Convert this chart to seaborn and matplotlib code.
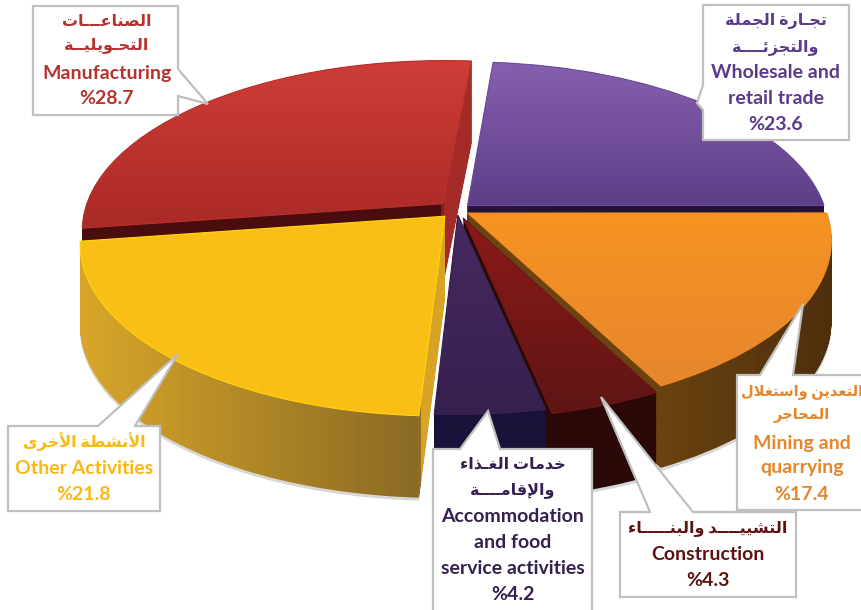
import numpy as np
import matplotlib
matplotlib.use('Agg')
import matplotlib.pyplot as plt
from matplotlib.colors import LinearSegmentedColormap
from matplotlib.patches import PathPatch, Polygon
from matplotlib.path import Path
import seaborn as sns

# slices, clockwise from the top
sectors = ['Wholesale and retail trade', 'Mining and quarrying', 'Construction',
           'Accommodation and food service activities', 'Other Activities', 'Manufacturing']
shares = [23.6, 17.4, 4.3, 4.2, 21.8, 28.7]
explode = [0.04, 0.035, 0.05, 0.03, 0.05, 0.055]

top_colors = ['#6f4d9c', '#f18c26', '#6c1716', '#38224f', '#fabf16', '#b9312d']

label_lines = [
    ['تجـارة الجملة', 'والتجزئــــة', 'Wholesale and', 'retail trade', '%23.6'],
    ['التعدين واستغلال', 'المحاجر', 'Mining and', 'quarrying', '%17.4'],
    ['التشييــــد والبنـــــاء', 'Construction', '%4.3'],
    ['خدمات الغـذاء', 'والإقامــــة', 'Accommodation', 'and food', 'service activities', '%4.2'],
    ['الأنشطة الأخرى', 'Other Activities', '%21.8'],
    ['الصناعـــات', 'التحـويليــة', 'Manufacturing', '%28.7'],
]
label_colors = ['#5b3a8a', '#e5862a', '#5c1312', '#35204f', '#fbb813', '#b5332e']

# Arabic presentation forms: isolated, final, initial, medial
FORMS = {
    'ء': (0xFE80,), 'آ': (0xFE81, 0xFE82), 'أ': (0xFE83, 0xFE84), 'إ': (0xFE87, 0xFE88),
    'ئ': (0xFE89, 0xFE8A, 0xFE8B, 0xFE8C), 'ا': (0xFE8D, 0xFE8E), 'ب': (0xFE8F, 0xFE90, 0xFE91, 0xFE92),
    'ة': (0xFE93, 0xFE94), 'ت': (0xFE95, 0xFE96, 0xFE97, 0xFE98), 'ج': (0xFE9D, 0xFE9E, 0xFE9F, 0xFEA0),
    'ح': (0xFEA1, 0xFEA2, 0xFEA3, 0xFEA4), 'خ': (0xFEA5, 0xFEA6, 0xFEA7, 0xFEA8), 'د': (0xFEA9, 0xFEAA),
    'ذ': (0xFEAB, 0xFEAC), 'ر': (0xFEAD, 0xFEAE), 'ز': (0xFEAF, 0xFEB0),
    'س': (0xFEB1, 0xFEB2, 0xFEB3, 0xFEB4), 'ش': (0xFEB5, 0xFEB6, 0xFEB7, 0xFEB8),
    'ص': (0xFEB9, 0xFEBA, 0xFEBB, 0xFEBC), 'ط': (0xFEC1, 0xFEC2, 0xFEC3, 0xFEC4),
    'ع': (0xFEC9, 0xFECA, 0xFECB, 0xFECC), 'غ': (0xFECD, 0xFECE, 0xFECF, 0xFED0),
    'ف': (0xFED1, 0xFED2, 0xFED3, 0xFED4), 'ق': (0xFED5, 0xFED6, 0xFED7, 0xFED8),
    'ل': (0xFEDD, 0xFEDE, 0xFEDF, 0xFEE0), 'م': (0xFEE1, 0xFEE2, 0xFEE3, 0xFEE4),
    'ن': (0xFEE5, 0xFEE6, 0xFEE7, 0xFEE8), 'ه': (0xFEE9, 0xFEEA, 0xFEEB, 0xFEEC), 'و': (0xFEED, 0xFEEE),
    'ى': (0xFEEF, 0xFEF0), 'ي': (0xFEF1, 0xFEF2, 0xFEF3, 0xFEF4),
}
LAM_ALEF = {'ا': (0xFEFB, 0xFEFC), 'أ': (0xFEF7, 0xFEF8), 'إ': (0xFEF9, 0xFEFA), 'آ': (0xFEF5, 0xFEF6)}
KASHIDA = 'ـ'


def joins_next(c):
    return c == KASHIDA or len(FORMS.get(c, ())) == 4


def joins_prev(c):
    return c == KASHIDA or len(FORMS.get(c, ())) >= 2


def shape_arabic(text):
    """matplotlib has no shaping, so pick the forms by hand and reverse for display."""
    if not any(c in FORMS for c in text):
        return text
    out = []
    i = 0
    while i < len(text):
        c = text[i]
        prev = text[i - 1] if i > 0 else ' '
        nxt = text[i + 1] if i + 1 < len(text) else ' '
        linked = joins_next(prev)
        if c == 'ل' and nxt in LAM_ALEF:
            out.append(chr(LAM_ALEF[nxt][1 if linked else 0]))
            i += 2
            continue
        if c in FORMS:
            forms = FORMS[c]
            right = linked and joins_prev(c)
            left = joins_next(c) and joins_prev(nxt)
            if len(forms) == 4:
                idx = 3 if right and left else 2 if left else 1 if right else 0
            elif len(forms) == 2:
                idx = 1 if right else 0
            else:
                idx = 0
            out.append(chr(forms[idx]))
        else:
            out.append(c)
        i += 1
    return ''.join(reversed(out))


CX, CY, RX, RY = 457.0, 210.0, 358.0, 167.0
PERSPECTIVE = 0.154
DEPTH = 82.0 / RY
W, H = 862, 610

sns.set_theme(style='white')
plt.rcParams['font.family'] = ['Lato', 'DejaVu Sans']

fig = plt.figure(figsize=(W / 100, H / 100), dpi=100)
ax = fig.add_axes([0, 0, 1, 1])
wedges, _ = ax.pie(shares, explode=explode, colors=sns.color_palette(top_colors),
                   startangle=85, counterclock=False)
ax.set_aspect('auto')
xlim = ((0 - CX) / RX, (W - CX) / RX)
ylim = ((CY - H) / RY, CY / RY)


def project(path):
    v = path.vertices
    den = 1 + PERSPECTIVE * v[:, 1]
    return Path(np.column_stack([v[:, 0] / den, v[:, 1] / den]), path.codes)


def extrude(path, depth=DEPTH, steps=90, shift=0.0):
    parts = []
    for d in np.linspace(0, depth, steps):
        parts.append(Path(path.vertices + [0, -d - shift], path.codes))
    return Path.make_compound_path(*parts)


def fill_gradient(path, stops, vertical, z):
    """Paint a path with a colour ramp, stops are (pixel position, colour)."""
    extent_px = H if vertical else W
    cmap = LinearSegmentedColormap.from_list('ramp', [(p / extent_px, c) for p, c in stops])
    ramp = np.linspace(0, 1, extent_px)
    img = ramp[:, None] if vertical else ramp[None, :]
    im = ax.imshow(img, cmap=cmap, vmin=0, vmax=1, aspect='auto', origin='upper',
                   extent=(xlim[0], xlim[1], ylim[0], ylim[1]), zorder=z, interpolation='bilinear')
    clip = PathPatch(path, transform=ax.transData, fc='none', ec='none')
    ax.add_patch(clip)
    im.set_clip_path(clip)


top_ramps = [
    [(0, '#8660ae'), (60, '#8660ae'), (215, '#5a3c85'), (610, '#5a3c85')],
    [(0, '#f79322'), (215, '#f79322'), (390, '#e5862e'), (610, '#e5862e')],
    [(0, '#8a1a1a'), (230, '#8a1a1a'), (410, '#5f1514'), (610, '#5f1514')],
    [(0, '#46295f'), (230, '#46295f'), (420, '#35204f'), (610, '#35204f')],
    [(0, '#fabf16'), (610, '#fabf16')],
    [(0, '#cf3d37'), (60, '#cf3d37'), (235, '#a82926'), (610, '#a82926')],
]
side_ramps = [
    [(0, '#231338'), (862, '#231338')],
    [(0, '#6b4310'), (655, '#6b4310'), (835, '#4e2f0c'), (862, '#4e2f0c')],
    [(0, '#2b0909'), (862, '#2b0909')],
    [(0, '#1a1238'), (862, '#1a1238')],
    [(0, '#d8a62a'), (80, '#d8a62a'), (419, '#8a6a24'), (421, '#d9a326'), (862, '#d9a326')],
    [(0, '#4a0d0e'), (441, '#4a0d0e'), (444, '#a42b27'), (862, '#a42b27')],
]
rim_colors = ['#6f4d9c', '#f18c26', '#6c1716', '#38224f', '#ffd60a', '#b9312d']

# drawn back to front
draw_order = [5, 0, 1, 4, 2, 3]
for n, i in enumerate(draw_order):
    wedges[i].set_visible(False)
    top = project(wedges[i].get_path())
    z = 2 + n * 3
    ax.add_patch(PathPatch(extrude(top, shift=3 / RY), fc='#bdbdbd', ec='none', alpha=0.6, zorder=1))
    fill_gradient(extrude(top), side_ramps[i], False, z)
    fill_gradient(top, top_ramps[i], True, z + 1)
    ax.add_patch(PathPatch(top, fc='none', ec=rim_colors[i], lw=0.8, zorder=z + 2))
ax.set_xlim(xlim)
ax.set_ylim(ylim)
ax.axis('off')

# callouts, in pixels
over = fig.add_axes([0, 0, 1, 1], zorder=10)
over.set_xlim(0, W)
over.set_ylim(H, 0)
over.axis('off')

outlines = [
    [(703, 5), (849, 5), (849, 140), (703, 140), (703, 110), (697, 103), (703, 85)],
    [(737, 375), (760, 375), (803, 304), (793, 375), (868, 375), (868, 510), (737, 510)],
    [(620, 512), (650, 512), (601, 397), (693, 512), (796, 512), (796, 597), (620, 597)],
    [(433, 449), (460, 449), (488, 411), (500, 449), (592, 449), (592, 614), (433, 614)],
    [(8, 426), (98, 426), (178, 354), (135, 426), (160, 426), (160, 511), (8, 511)],
    [(33, 6), (178, 6), (178, 69), (208, 104), (178, 96), (178, 115), (33, 115)],
]
text_x = [776, 802, 708, 513, 84, 107]
text_y = [
    [21, 48, 73, 99, 124],
    [392, 415, 443, 468, 494],
    [528, 555, 581],
    [465, 490, 517, 543, 568, 594],
    [442, 468, 494],
    [22, 45, 73, 98],
]
arabic_size = [11.5, 10.5, 11.5, 11.5, 11.5, 11.5]

for i in range(len(shares)):
    over.add_patch(Polygon(outlines[i], closed=True, fc='white', ec='#bfbfbf', lw=1.6, joinstyle='miter'))
    for line, y in zip(label_lines[i], text_y[i]):
        shaped = shape_arabic(line)
        over.text(text_x[i], y, shaped, color=label_colors[i], ha='center', va='center',
                  fontsize=arabic_size[i] if shaped != line else 14, fontweight='bold',
                  family=['Lato', 'DejaVu Sans'])

fig.savefig('out.png', dpi=100, facecolor='white')
